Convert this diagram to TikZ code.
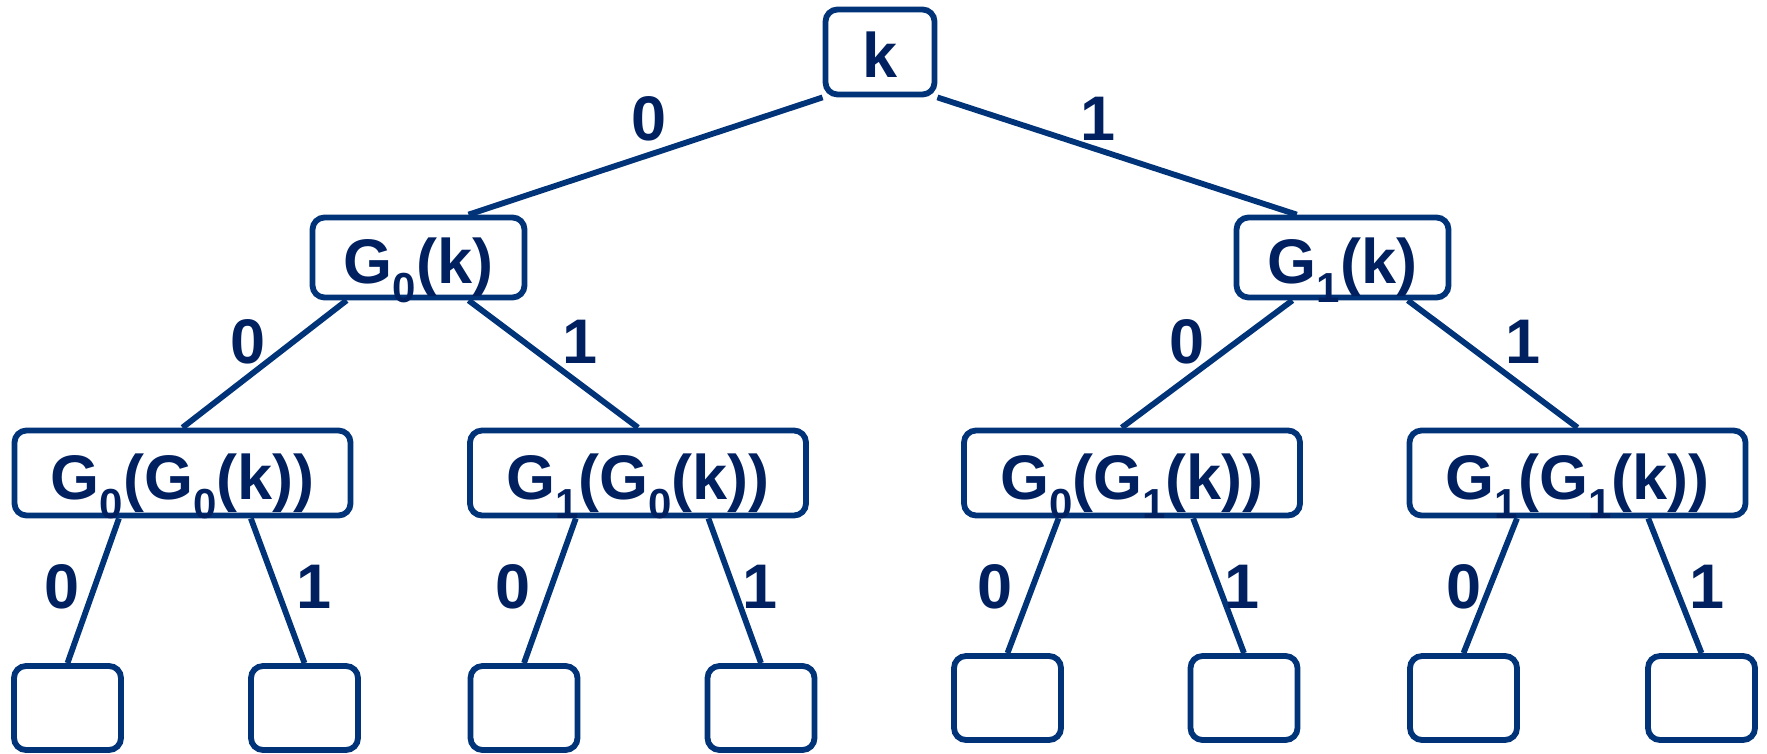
\documentclass[tikz,border=0pt]{standalone}
\usepackage{fontspec}
\setmainfont{Liberation Sans}
\usetikzlibrary{calc}
\definecolor{navy}{RGB}{0,51,119}
\definecolor{navytext}{RGB}{0,32,96}
\newcommand{\gsub}[1]{\raisebox{-9.5pt}{\fontsize{21pt}{21pt}\selectfont #1}}
\begin{document}
\begin{tikzpicture}[x=0.5pt,y=-0.5pt,
  box/.style={draw=navy, line width=2.9pt, rounded corners=6pt, inner sep=0pt,
    text=navytext, font=\fontsize{31.5pt}{31.5pt}\selectfont\bfseries,
    text height=26pt, text depth=0pt},
  lvlone/.style={box, minimum width=106pt, minimum height=40pt},
  lvltwo/.style={box, minimum width=168pt, minimum height=42.5pt},
  leaf/.style={box, minimum width=53.5pt, minimum height=42pt},
  edge/.style={draw=navy, line width=2.9pt},
  lbl/.style={text=navytext, font=\fontsize{31.5pt}{31.5pt}\selectfont\bfseries, inner sep=0pt}]
\useasboundingbox (0,0) rectangle (1767,754);
% nodes
\node[box, minimum width=54.5pt, minimum height=42.5pt] (root) at (880,52) {k};
\node[lvlone] (L) at (418.5,257.5) {G\gsub{0}(k)};
\node[lvlone] (R) at (1342.5,257.5) {G\gsub{1}(k)};
\node[lvltwo] (A) at (182.5,473) {G\gsub{0}(G\gsub{0}(k))};
\node[lvltwo] (B) at (638,473) {G\gsub{1}(G\gsub{0}(k))};
\node[lvltwo] (C) at (1132,473) {G\gsub{0}(G\gsub{1}(k))};
\node[lvltwo] (D) at (1577.5,473) {G\gsub{1}(G\gsub{1}(k))};
\node[leaf] (A0) at (67.5,708) {};
\node[leaf] (A1) at (304.5,708) {};
\node[leaf] (B0) at (524,708) {};
\node[leaf] (B1) at (761,708) {};
\node[leaf] (C0) at (1007.5,698) {};
\node[leaf] (C1) at (1244,698) {};
\node[leaf] (D0) at (1463.5,698) {};
\node[leaf] (D1) at (1701.5,698) {};
% edges
\draw[edge] (root.south west) -- ($(L.north west)!0.73!(L.north east)$);
\draw[edge] (root.south east) -- ($(R.north west)!0.29!(R.north east)$);
\draw[edge] ($(L.south west)!0.17!(L.south east)$) -- (A.north);
\draw[edge] ($(L.south west)!0.73!(L.south east)$) -- (B.north);
\draw[edge] ($(R.south west)!0.27!(R.south east)$) -- ($(C.north west)!0.47!(C.north east)$);
\draw[edge] ($(R.south west)!0.80!(R.south east)$) -- (D.north);
\draw[edge] ($(A.south west)!0.314!(A.south east)$) -- (A0.north);
\draw[edge] ($(A.south west)!0.70!(A.south east)$) -- (A1.north);
\draw[edge] ($(B.south west)!0.318!(B.south east)$) -- (B0.north);
\draw[edge] ($(B.south west)!0.706!(B.south east)$) -- (B1.north);
\draw[edge] ($(C.south west)!0.285!(C.south east)$) -- (C0.north);
\draw[edge] ($(C.south west)!0.679!(C.south east)$) -- (C1.north);
\draw[edge] ($(D.south west)!0.323!(D.south east)$) -- (D0.north);
\draw[edge] ($(D.south west)!0.707!(D.south east)$) -- (D1.north);
% labels
\node[lbl] (l0) at (649,119) {0};
\node[lbl] (l1) at (1098,119) {1};
\node[lbl] (lL0) at (248,342) {0};
\node[lbl] (lL1) at (580,342) {1};
\node[lbl] (lR0) at (1187,342) {0};
\node[lbl] (lR1) at (1523,342) {1};
\node[lbl] (lA0) at (62,587) {0};
\node[lbl] (lA1) at (314,587) {1};
\node[lbl] (lB0) at (513,587) {0};
\node[lbl] (lB1) at (760,587) {1};
\node[lbl] (lC0) at (995,587) {0};
\node[lbl] (lC1) at (1242,587) {1};
\node[lbl] (lD0) at (1464,587) {0};
\node[lbl] (lD1) at (1707,587) {1};
\end{tikzpicture}
\end{document}
